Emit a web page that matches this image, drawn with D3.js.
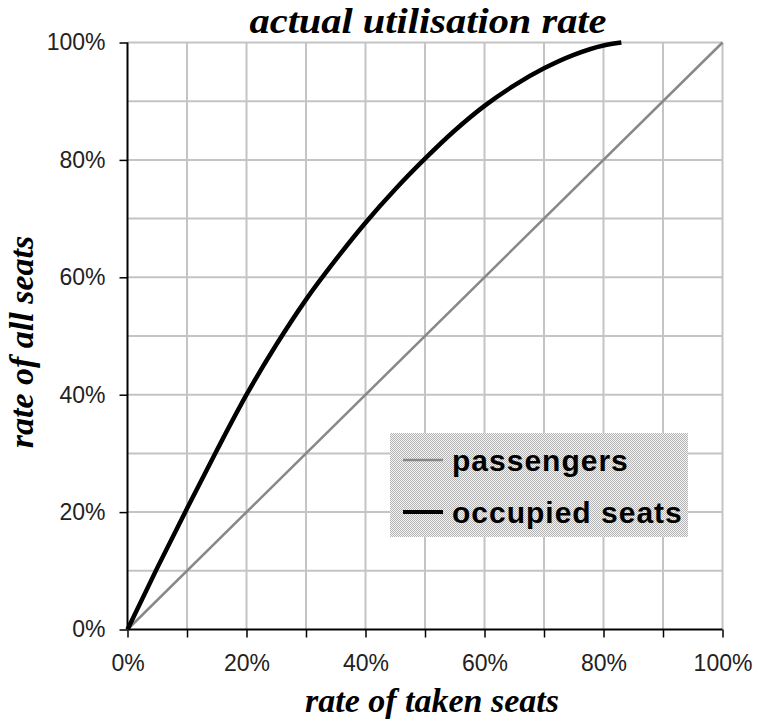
<!DOCTYPE html>
<html>
<head>
<meta charset="utf-8">
<script src="https://cdn.jsdelivr.net/npm/d3@7"></script>
<style>
html,body{margin:0;padding:0;background:#fff;}
svg{display:block;}
</style>
</head>
<body>
<svg id="chart" width="758" height="724"></svg>
<script>
// ---- data ----
const xTicks = [0, 10, 20, 30, 40, 50, 60, 70, 80, 90, 100];
const xTickLabels = ["0%", "", "20%", "", "40%", "", "60%", "", "80%", "", "100%"];
const yTicks = [0, 20, 40, 60, 80, 100];
const yTickLabels = ["0%", "20%", "40%", "60%", "80%", "100%"];
const gridValues = [10, 20, 30, 40, 50, 60, 70, 80, 90, 100];

const passengersX = [0, 100];
const passengersY = [0, 100];

const occupiedX = [0, 5, 10, 15, 20, 25, 30, 35, 40, 45, 50, 55, 60, 65, 70, 75, 80, 83];
const occupiedY = [0, 10.5, 20.6, 30.5, 40.0, 48.5, 56.2, 63.0, 69.3, 75.0, 80.2, 85.0, 89.2, 92.7, 95.6, 97.9, 99.5, 100];

const seriesNames = ["passengers", "occupied seats"];
const titleText = "actual utilisation rate";
const xTitle = "rate of taken seats";
const yTitle = "rate of all seats";

// ---- layout ----
const svg = d3.select("#chart");
const mLeft = 127.5, mRight = 722.5, mTop = 42.5, mBottom = 629.5;
const x = d3.scaleLinear().domain([0, 100]).range([mLeft, mRight]);
const y = d3.scaleLinear().domain([0, 100]).range([mBottom, mTop]);

// legend pattern
const defs = svg.append("defs");
const pat = defs.append("pattern").attr("id", "dots").attr("width", 2).attr("height", 2)
  .attr("patternUnits", "userSpaceOnUse");
pat.append("rect").attr("width", 2).attr("height", 2).attr("fill", "#f4f4f4");
pat.append("rect").attr("x", 0).attr("y", 0).attr("width", 1).attr("height", 1).attr("fill", "#b4b4b4");
pat.append("rect").attr("x", 1).attr("y", 1).attr("width", 1).attr("height", 1).attr("fill", "#b4b4b4");

// gridlines
const grid = svg.append("g");
grid.selectAll("line.v").data(gridValues).join("line").attr("class", "v")
  .attr("x1", d => x(d)).attr("x2", d => x(d)).attr("y1", y(0)).attr("y2", y(100))
  .attr("stroke", "#c4c4c4").attr("stroke-width", 2);
grid.selectAll("line.h").data(gridValues).join("line").attr("class", "h")
  .attr("x1", x(0)).attr("x2", x(100)).attr("y1", d => y(d)).attr("y2", d => y(d))
  .attr("stroke", "#c4c4c4").attr("stroke-width", 2);

// axes
const fontSans = "'Liberation Sans', Arial, sans-serif";
const fontSerif = "'Liberation Serif', 'Times New Roman', serif";

const xAxis = d3.axisBottom(x).tickValues(xTicks).tickSize(8).tickPadding(17)
  .tickFormat((d, i) => xTickLabels[i]);
const gx = svg.append("g").attr("transform", `translate(0,${mBottom})`).call(xAxis);
gx.select(".domain").attr("stroke", "#000").attr("stroke-width", 2).attr("d", `M${mLeft},0H${mRight}`);
gx.selectAll(".tick line").attr("stroke", "#000").attr("stroke-width", 1.5);
gx.selectAll(".tick text").attr("font-family", fontSans).attr("font-size", 23).attr("fill", "#222");

const yAxis = d3.axisLeft(y).tickValues(yTicks).tickSize(8).tickPadding(14)
  .tickFormat((d, i) => yTickLabels[i]);
const gy = svg.append("g").attr("transform", `translate(${mLeft},0)`).call(yAxis);
gy.select(".domain").attr("stroke", "#000").attr("stroke-width", 2).attr("d", `M0,${mBottom}V${mTop}`);
gy.selectAll(".tick line").attr("stroke", "#000").attr("stroke-width", 1.5);
gy.selectAll(".tick text").attr("font-family", fontSans).attr("font-size", 23).attr("fill", "#222");

// lines
const pData = passengersX.map((v, i) => [v, passengersY[i]]);
const oData = occupiedX.map((v, i) => [v, occupiedY[i]]);
const line = d3.line().x(d => x(d[0])).y(d => y(d[1])).curve(d3.curveMonotoneX);

svg.append("path").datum(pData).attr("d", line).attr("fill", "none")
  .attr("stroke", "#888").attr("stroke-width", 2.5);
svg.append("path").datum(oData).attr("d", line).attr("fill", "none")
  .attr("stroke", "#000").attr("stroke-width", 4.5).attr("stroke-linejoin", "round");

// legend
const lg = svg.append("g");
lg.append("rect").attr("x", 390).attr("y", 433).attr("width", 298).attr("height", 104).attr("fill", "url(#dots)");
const lgItems = [
  {name: seriesNames[0], color: "#888", w: 2.5, ly: 460, ty: 471},
  {name: seriesNames[1], color: "#000", w: 4, ly: 512, ty: 523}
];
lgItems.forEach(it => {
  lg.append("line").attr("x1", 403).attr("x2", 443).attr("y1", it.ly).attr("y2", it.ly)
    .attr("stroke", it.color).attr("stroke-width", it.w);
  lg.append("text").attr("x", 452).attr("y", it.ty).text(it.name)
    .attr("font-family", fontSans).attr("font-weight", "bold").attr("font-size", 30)
    .attr("letter-spacing", 1).attr("fill", "#000");
});

// titles
svg.append("text").attr("x", 428).attr("y", 33).attr("text-anchor", "middle").text(titleText)
  .attr("font-family", fontSerif).attr("font-style", "italic").attr("font-weight", "bold")
  .attr("font-size", 36).attr("textLength", 357).attr("lengthAdjust", "spacingAndGlyphs")
  .attr("fill", "#000");
svg.append("text").attr("x", 432).attr("y", 712).attr("text-anchor", "middle").text(xTitle)
  .attr("font-family", fontSerif).attr("font-style", "italic").attr("font-weight", "bold")
  .attr("font-size", 34).attr("fill", "#000");
svg.append("text").attr("transform", "translate(33,342) rotate(-90)").attr("text-anchor", "middle").text(yTitle)
  .attr("font-family", fontSerif).attr("font-style", "italic").attr("font-weight", "bold")
  .attr("font-size", 34).attr("fill", "#000");
</script>
</body>
</html>
